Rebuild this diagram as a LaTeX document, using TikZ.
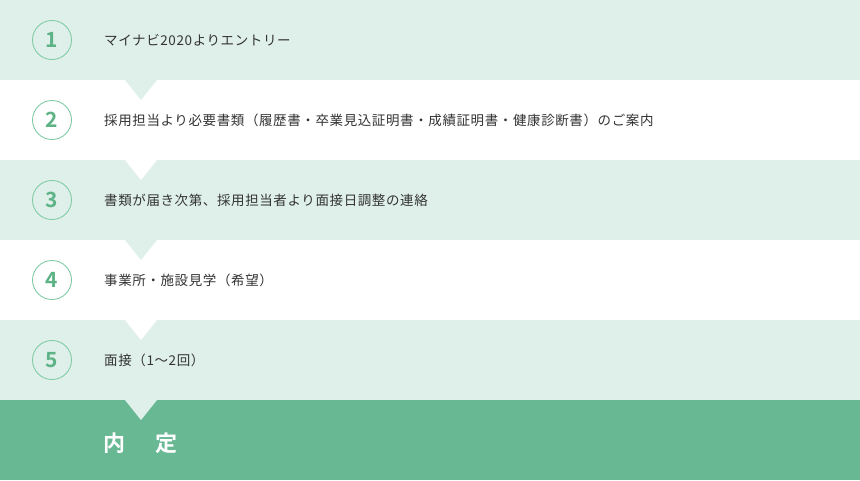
\documentclass[tikz,border=0pt]{standalone}
\usepackage{fontspec}
\newfontfamily\jp[LetterSpace=4.5]{Noto Sans CJK JP}
\newfontfamily\jpb{Noto Sans CJK JP Bold}
\definecolor{lightrow}{HTML}{DFF0EA}
\definecolor{darkrow}{HTML}{68B894}
\definecolor{ringcol}{HTML}{82CBA7}
\definecolor{numcol}{HTML}{5DB386}
\definecolor{txtcol}{HTML}{333333}
\tikzset{
  rowband/.style={inner sep=0pt, outer sep=0pt, minimum width=860pt, minimum height=80pt, anchor=north west},
  ring/.style={circle, draw=ringcol, line width=0.9pt, minimum size=39pt, inner sep=0pt, text=numcol, font=\jpb\fontsize{21pt}{21pt}\selectfont},
  steptext/.style={anchor=west, inner sep=0pt, text=txtcol, font=\jp\fontsize{13.5pt}{14pt}\selectfont}
}
\begin{document}
\begin{tikzpicture}[x=1pt,y=-1pt]
\useasboundingbox (0,0) rectangle (860,480);
% bands
\node[rowband, fill=lightrow] (r1) at (0,0) {};
\node[rowband, fill=white] (r2) at (0,80) {};
\node[rowband, fill=lightrow] (r3) at (0,160) {};
\node[rowband, fill=white] (r4) at (0,240) {};
\node[rowband, fill=lightrow] (r5) at (0,320) {};
\node[rowband, fill=darkrow] (r6) at (0,400) {};
% pointers
\foreach \y/\c in {80/lightrow,160/white,240/lightrow,320/white,400/lightrow}{
  \fill[\c] (125,\y) -- (157,\y) -- (141,\y+20) -- cycle;
}
% circles
\node[ring] (c1) at (52,40) {1};
\node[ring] (c2) at (52,120) {2};
\node[ring] (c3) at (52,200) {3};
\node[ring] (c4) at (52,280) {4};
\node[ring] (c5) at (52,360) {5};
% texts
\node[steptext] (t1) at (104,40) {マイナビ2020よりエントリー};
\node[steptext] (t2) at (104,120) {採用担当より必要書類（履歴書・卒業見込証明書・成績証明書・健康診断書）のご案内};
\node[steptext] (t3) at (104,200) {書類が届き次第、採用担当者より面接日調整の連絡};
\node[steptext] (t4) at (104,280) {事業所・施設見学（希望）};
\node[steptext] (t5) at (104,360) {面接（1～2回）};
\node[anchor=west, inner sep=0pt, text=white, font=\jpb\fontsize{22pt}{22pt}\selectfont] (t6) at (103,443) {内\hspace{30pt}定};
\end{tikzpicture}
\end{document}
